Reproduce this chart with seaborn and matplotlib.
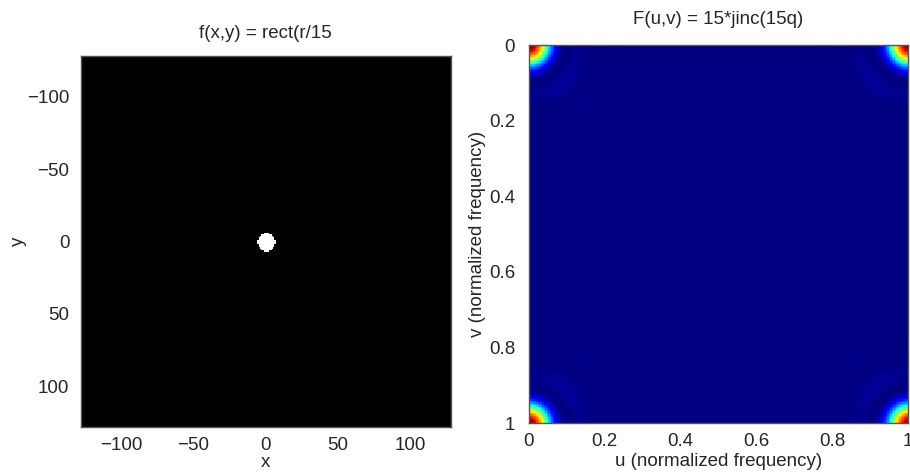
import numpy as np
import pandas as pd
import matplotlib
matplotlib.use("Agg")
import matplotlib.pyplot as plt
import seaborn as sns

# ---- data definition ----
grid_size = 256            # samples per side
grid_min = -128            # spatial coordinate of first sample
disc_diameter = 12.5       # white disc width
x_ticks = [-100, -50, 0, 50, 100]
y_ticks = [-100, -50, 0, 50, 100]
freq_ticks = [0, 0.2, 0.4, 0.6, 0.8, 1]
freq_tick_labels = ["0", "0.2", "0.4", "0.6", "0.8", "1"]
left_title = "f(x,y) = rect(r/15"
right_title = "F(u,v) = 15*jinc(15q)"

coords = np.arange(grid_size) + grid_min
X, Y = np.meshgrid(coords, coords)
R = np.sqrt(X ** 2 + Y ** 2)
f = (R < disc_diameter / 2).astype(float)
F = np.abs(np.fft.fft2(np.fft.ifftshift(f))) ** 2
F = F / F.max()

sns.set_theme(style="white")
plt.rcParams["font.family"] = ["Liberation Sans", "DejaVu Sans"]

fig = plt.figure(figsize=(9.10, 4.73), dpi=100)
W, H = 910, 473
ax1 = fig.add_axes([80.5 / W, (H - 427) / H, 370.5 / W, 371 / H])
ax2 = fig.add_axes([529 / W, (H - 423) / H, 379 / W, 378 / H])

sns.heatmap(pd.DataFrame(f, index=coords, columns=coords), ax=ax1, cmap="gray",
            cbar=False, vmin=0, vmax=1, xticklabels=False, yticklabels=False,
            rasterized=True)
sns.heatmap(pd.DataFrame(F), ax=ax2, cmap="jet", cbar=False,
            xticklabels=False, yticklabels=False, rasterized=True)

fs = 13.5
# left panel ticks (cell edges 0..256 map to -128..128)
ax1.set_xticks([t - grid_min for t in x_ticks])
ax1.set_xticklabels([str(t).replace("-", "\u2212") for t in x_ticks], fontsize=fs, rotation=0)
ax1.set_yticks([t - grid_min for t in y_ticks])
ax1.set_yticklabels([str(t).replace("-", "\u2212") for t in y_ticks], fontsize=fs, rotation=0)
ax1.set_xlabel("x", fontsize=fs, labelpad=0)
ax1.set_ylabel("y", fontsize=fs, labelpad=0)
ax1.set_title(left_title, fontsize=fs, pad=13)

ax2.set_xticks([t * grid_size for t in freq_ticks])
ax2.set_xticklabels(freq_tick_labels, fontsize=fs, rotation=0)
ax2.set_yticks([t * grid_size for t in freq_ticks])
ax2.set_yticklabels(freq_tick_labels, fontsize=fs, rotation=0)
ax2.set_xlabel("u (normalized frequency)", fontsize=fs, labelpad=2)
ax2.set_ylabel("v (normalized frequency)", fontsize=fs, labelpad=2)
ax2.set_title(right_title, fontsize=fs, pad=15)

for ax in (ax1, ax2):
    ax.tick_params(direction="in", length=3, width=0.5, color="#222222",
                   bottom=True, left=True, top=True, right=True, labelsize=fs)
    ax.tick_params(axis="x", pad=7)
    ax.tick_params(axis="y", pad=8)
    for s in ax.spines.values():
        s.set_visible(True)
        s.set_color("#555555")
        s.set_linewidth(1)
ax2.tick_params(axis="y", pad=10)
ax2.tick_params(axis="x", pad=7)

fig.savefig("out.png", dpi=100)
